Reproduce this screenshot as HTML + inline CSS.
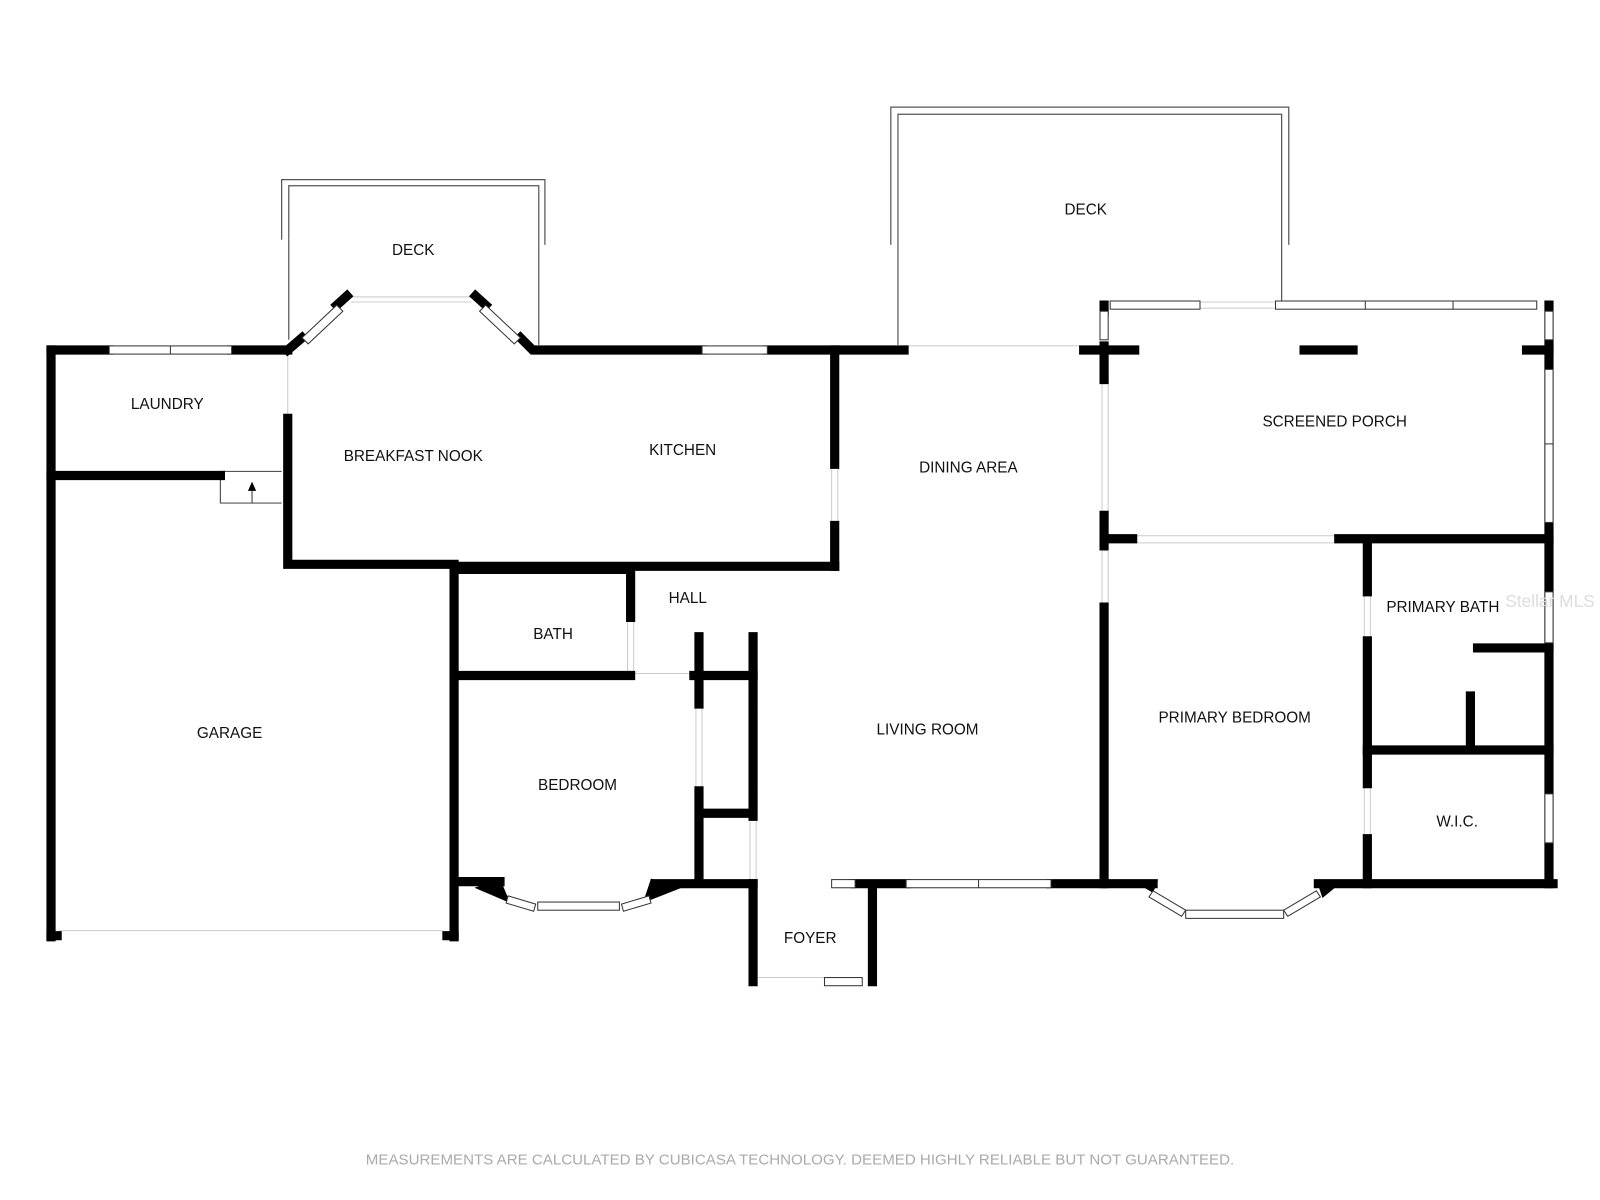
<!DOCTYPE html>
<html><head><style>
html,body{margin:0;padding:0;background:#fff}
svg{display:block}
text{font-family:"Liberation Sans",sans-serif;font-size:15px;fill:#111;text-anchor:middle}
</style></head><body>
<svg width="1600" height="1200" viewBox="0 0 1568 1176" xmlns="http://www.w3.org/2000/svg">
<rect width="1568" height="1176" fill="#fff"/>
<g fill="none" stroke="#555" stroke-width="1.2">
<path d="M276 235 V176 H534 V240 M283 235 V182 H528 V240"/>
<path d="M283 235 V333 M528 240 V338"/>
<path d="M873 240 V105 H1263 V240 M880 240 V112 H1256 V240"/>
<path d="M880 240 V338 M1256 240 V295"/>
<path d="M216 462 H276 M216 470 V493 H276 M247 493 V476"/>
</g>
<path d="M247 472 l-4 9 h8z" fill="#000"/>
<g stroke="#ccc" stroke-width="1">
<path d="M886 339 H1058 M58 912 H434 M282 350 V408 M622 660 H680"/>
<path d="M344 291 H462 M344 296 H462"/>
<path d="M1176 296 H1250 M1176 302 H1250"/>
<path d="M1112 525 H1310 M1112 532 H1310"/>
<path d="M1080 372 V505 M1086 372 V505"/>
<path d="M1080 540 V595 M1086 540 V595"/>
<path d="M1337 580 V628 M1343 580 V628 M1337 768 V822 M1343 768 V822"/>
<path d="M815 455 V515 M821 455 V515 M615 605 V660 M621 605 V660"/>
<path d="M682 690 V775 M688 690 V775 M735 800 V862 M741 800 V862"/>
<path d="M742 958 H808"/>
</g>
<g stroke="#000" stroke-width="9" fill="none" stroke-linecap="square">
<path d="M50 343 V918"/>
<path d="M50 343 H107 M227 343 H282"/>
<path d="M50 466 H216"/>
<path d="M282 410 V553 H445 M445 555 H818 M445 555 V918"/>
<path d="M50 917 H56 M438 917 H445"/>
<path d="M282 343 L296 331 M330 299 L340 290 M466 290 L476 299 M510 331 L522 343 H688 M752 343 H886"/>
<path d="M818 343 V455 M818 515 V555"/>
<path d="M1062 343 H1112 M1082 339 V372"/>
<path d="M1082 505 V535 M1082 595 V866"/>
<path d="M1082 299 V305 M1518 299 V866"/>
<path d="M1278 343 H1326 M1496 343 H1518"/>
<path d="M1082 528 H1110 M1312 528 H1518"/>
<path d="M1340 532 V580 M1340 628 V768 M1340 822 V866"/>
<path d="M1448 635 H1518 M1441 682 V735 M1340 735 H1518"/>
<path d="M1292 866 H1522 M1030 866 H1130"/>
<path d="M838 866 H888 M855 866 V962 M738 866 V962"/>
<path d="M449 864 H490 M642 866 H738"/>
<path d="M449 558 H618 M618 558 V605 M449 662 H618 M680 662 H738"/>
<path d="M685 624 V690 M685 775 V862 M738 624 V800 M685 797 H738"/>
</g>
<path d="M490 861 L500 885 L465 870 Z M638 861 L630 885 L668 870 Z" fill="#000"/>
<path d="M1108 862 L1135 862 L1130 875 Z M1290 862 L1318 862 L1296 880 Z" fill="#000"/>
<g fill="#fff" stroke="#333" stroke-width="1">
<rect x="107" y="339" width="120" height="8"/><line x1="167" y1="339" x2="167" y2="347"/>
<rect x="688" y="339" width="64" height="8"/>
<rect x="888" y="862" width="142" height="8"/><line x1="959" y1="862" x2="959" y2="870"/>
<rect x="815" y="862" width="23" height="8"/>
<rect x="808" y="958" width="37" height="8"/>
<rect x="1088" y="295" width="88" height="8"/>
<rect x="1250" y="295" width="256" height="8"/><line x1="1338" y1="295" x2="1338" y2="303"/><line x1="1424" y1="295" x2="1424" y2="303"/>
<rect x="1078" y="305" width="8" height="28"/>
<rect x="1514" y="305" width="8" height="28"/>
<rect x="1514" y="362" width="8" height="150"/><line x1="1514" y1="435" x2="1522" y2="435"/>
<rect x="1514" y="580" width="8" height="50"/>
<rect x="1514" y="778" width="8" height="48"/>
<rect x="527" y="884" width="80" height="8"/>
<rect x="1162" y="892" width="96" height="8"/>
<polygon points="498,878 525,886 523,893 496,885"/>
<polygon points="609,886 636,878 638,885 611,893"/>
<polygon points="1130,873 1162,892 1158,898 1126,879"/>
<polygon points="1258,892 1290,873 1294,879 1262,898"/>
<polygon points="296,331 330,299 336,305 302,337"/>
<polygon points="476,299 510,331 504,337 470,305"/>
</g>
<text x="405" y="250">DECK</text>
<text x="1064" y="210">DECK</text>
<text x="164" y="401">LAUNDRY</text>
<text x="405" y="452">BREAKFAST NOOK</text>
<text x="669" y="446">KITCHEN</text>
<text x="949" y="463">DINING AREA</text>
<text x="1308" y="418">SCREENED PORCH</text>
<text x="674" y="591">HALL</text>
<text x="542" y="626">BATH</text>
<text x="1414" y="600">PRIMARY BATH</text>
<text x="225" y="723">GARAGE</text>
<text x="909" y="720">LIVING ROOM</text>
<text x="1210" y="708">PRIMARY BEDROOM</text>
<text x="566" y="774">BEDROOM</text>
<text x="1428" y="810">W.I.C.</text>
<text x="794" y="924">FOYER</text>
<text x="1519" y="595" style="fill:#ddd;font-size:17px">Stellar MLS</text>
<text x="784" y="1141" style="fill:#aaa;font-size:14.8px">MEASUREMENTS ARE CALCULATED BY CUBICASA TECHNOLOGY. DEEMED HIGHLY RELIABLE BUT NOT GUARANTEED.</text>
</svg>
</body></html>
